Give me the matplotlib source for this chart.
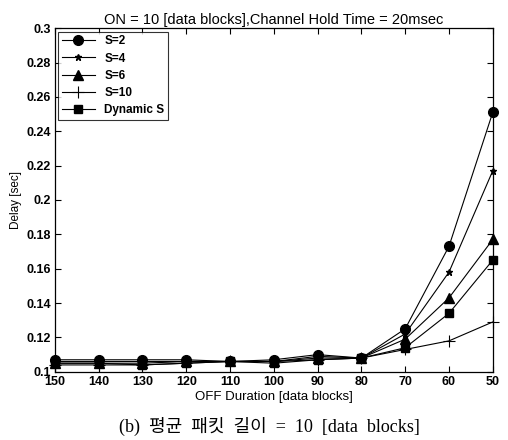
import matplotlib
matplotlib.use('Agg')
import matplotlib.pyplot as plt

# OFF duration (x axis runs from 150 down to 50)
off = [150, 140, 130, 120, 110, 100, 90, 80, 70, 60, 50]
s2 = [0.107, 0.107, 0.107, 0.107, 0.106, 0.107, 0.110, 0.108, 0.125, 0.173, 0.251]
s4 = [0.106, 0.106, 0.106, 0.106, 0.106, 0.106, 0.109, 0.108, 0.122, 0.158, 0.217]
s6 = [0.105, 0.105, 0.105, 0.106, 0.106, 0.106, 0.108, 0.108, 0.119, 0.143, 0.177]
s10 = [0.104, 0.104, 0.104, 0.105, 0.106, 0.106, 0.107, 0.108, 0.113, 0.118, 0.129]
dyn = [0.105, 0.105, 0.104, 0.105, 0.106, 0.105, 0.107, 0.108, 0.114, 0.134, 0.165]

yticks = [0.1, 0.12, 0.14, 0.16, 0.18, 0.2, 0.22, 0.24, 0.26, 0.28, 0.3]
ylabels = ['0.1', '0.12', '0.14', '0.16', '0.18', '0.2', '0.22', '0.24', '0.26', '0.28', '0.3']

plt.rcParams['font.family'] = ['Liberation Sans', 'DejaVu Sans']

fig = plt.figure(figsize=(5.08, 4.4), dpi=100)
ax = fig.add_axes([0.108, 0.155, 0.862, 0.781])

ax.plot(off, s2, 'k-', lw=0.8, marker='o', ms=7, label='S=2', clip_on=False)
ax.plot(off, s4, 'k-', lw=0.8, marker='*', ms=5, label='S=4', clip_on=False)
ax.plot(off, s6, 'k-', lw=0.8, marker='^', ms=7, label='S=6', clip_on=False)
ax.plot(off, s10, 'k-', lw=0.8, marker='+', ms=8, mew=0.8, label='S=10', clip_on=False)
ax.plot(off, dyn, 'k-', lw=0.8, marker='s', ms=6, label='Dynamic S', clip_on=False)

ax.set_xlim(150, 50)
ax.set_ylim(0.1, 0.3)
ax.set_xticks(off)
ax.set_xticklabels([str(v) for v in off], fontweight='bold', fontsize=9)
ax.set_yticks(yticks)
ax.set_yticklabels(ylabels, fontweight='bold', fontsize=9)
ax.tick_params(direction='in', top=True, right=True, length=4, width=0.8, pad=3)
for sp in ax.spines.values():
    sp.set_linewidth(0.9)

ax.set_title('ON = 10 [data blocks],Channel Hold Time = 20msec', fontsize=10.5, pad=3)
ax.set_xlabel('OFF Duration [data blocks]', fontsize=9.5, labelpad=2)
ax.set_ylabel('Delay [sec]', fontsize=8.5, labelpad=3)

leg = ax.legend(loc='upper left', fontsize=8.5, frameon=True, fancybox=False,
                edgecolor='black', borderaxespad=0.3, handlelength=2.8,
                labelspacing=0.45, borderpad=0.3)
leg.get_frame().set_linewidth(0.8)
for t in leg.get_texts():
    t.set_fontweight('bold')

fig.text(0.53, 0.008, '(b)  평균  패킷  길이  =  10  [data  blocks]', ha='center', va='bottom',
         fontsize=13, family=['Liberation Serif', 'Noto Sans CJK KR'])

fig.savefig('out.png', dpi=100)
